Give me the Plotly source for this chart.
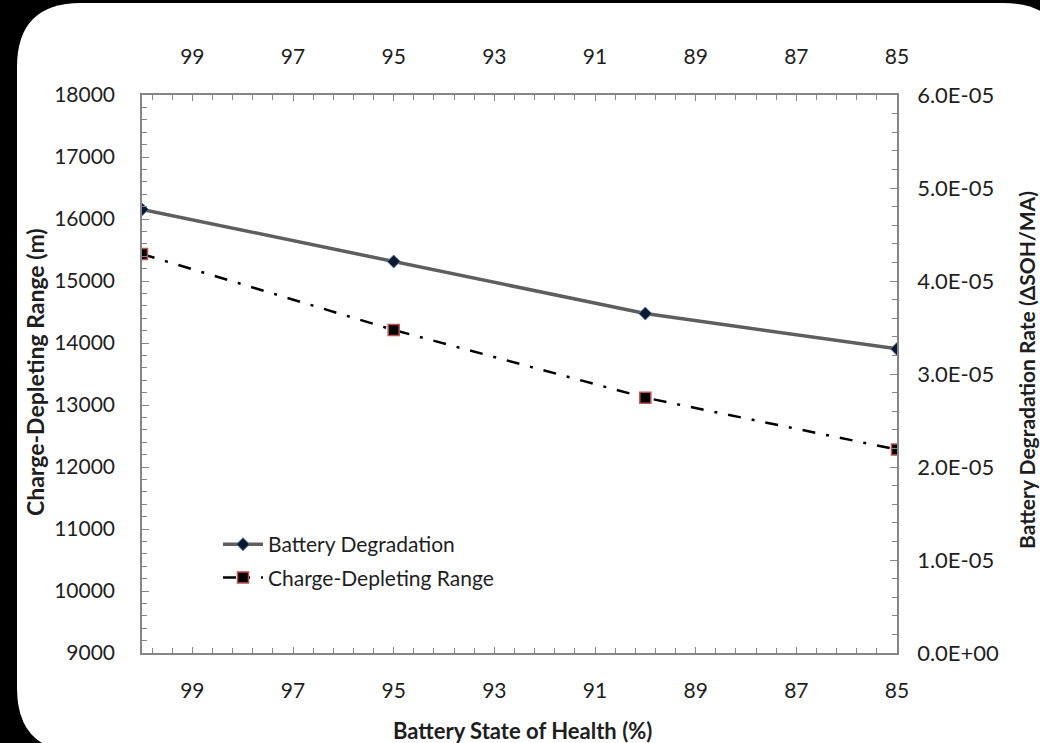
import plotly.graph_objects as go

# ---- data ----
soh = [100, 95, 90, 85]
degradation_rate = [4.77e-05, 4.21e-05, 3.65e-05, 3.27e-05]
cd_range = [15435, 14210, 13118, 12281]

x_ticks = [99, 97, 95, 93, 91, 89, 87, 85]
y_ticks = [9000, 10000, 11000, 12000, 13000, 14000, 15000, 16000, 17000, 18000]
y2_ticks = [0, 1e-05, 2e-05, 3e-05, 4e-05, 5e-05, 6e-05]
y2_labels = ["0.0E+00", "1.0E-05", "2.0E-05", "3.0E-05", "4.0E-05", "5.0E-05", "6.0E-05"]

# ---- layout geometry ----
W, H = 1040, 743
L, R, T, B = 142, 143, 95, 90
PW, PH = W - L - R, H - T - B

def px(x):
    return (x - L) / PW

def py(y):
    return (H - B - y) / PH

FONT = "Lato"
TXT = "#1e1e1e"
AX = "#868686"
TICKSZ = 21

fig = go.Figure()
fig.add_trace(go.Scatter(
    x=soh, y=degradation_rate, name="Battery Degradation",
    xaxis="x2", yaxis="y2", mode="lines+markers",
    line=dict(color="#5e5e5e", width=3.5),
    marker=dict(symbol="diamond", size=10, color="#0b1830",
                line=dict(color="#5b7fb0", width=1)),
    legendgroup="a",
))
fig.add_trace(go.Scatter(
    x=soh, y=cd_range, name="Charge-Depleting Range",
    xaxis="x", yaxis="y", mode="lines+markers",
    line=dict(color="#000000", width=2.5, dash="13px,11px,3px,11px"),
    marker=dict(symbol="square", size=11, color="#000000",
                line=dict(color="#c0504d", width=1.5)),
    legendgroup="b",
))

xcommon = dict(
    range=[100, 85], tickvals=x_ticks, showline=True, linecolor=AX, linewidth=1.5,
    ticks="inside", ticklen=6, tickcolor=AX, tickwidth=1.2, showgrid=False, zeroline=False,
    tickfont=dict(family=FONT, size=TICKSZ, color=TXT),
    minor=dict(ticks="inside", ticklen=5, tickcolor=AX, tickwidth=1.2, dtick=0.4, tick0=99),
)

# rounded white panel path (pixel coords -> paper)
l, t, r, b, rad = 17, 3, 1067, 752, 64
path = (
    f"M {px(l)},{py(t + rad)} "
    f"Q {px(l)},{py(t)} {px(l + rad)},{py(t)} "
    f"L {px(r - rad)},{py(t)} "
    f"Q {px(r)},{py(t)} {px(r)},{py(t + rad)} "
    f"L {px(r)},{py(b - rad)} "
    f"Q {px(r)},{py(b)} {px(r - rad)},{py(b)} "
    f"L {px(l + rad)},{py(b)} "
    f"Q {px(l)},{py(b)} {px(l)},{py(b - rad)} Z"
)

fig.update_layout(
    width=W, height=H,
    margin=dict(l=L, r=R, t=T, b=B),
    paper_bgcolor="#000000", plot_bgcolor="#ffffff",
    font=dict(family=FONT, color=TXT),
    xaxis=dict(**xcommon, side="bottom", anchor="y", ticklabelstandoff=18),
    xaxis2=dict(**xcommon, side="top", overlaying="x", matches="x", anchor="y", ticklabelstandoff=21),
    yaxis=dict(
        range=[9000, 18000], tickvals=y_ticks, tickformat="d", showline=True, linecolor=AX, linewidth=1.5,
        ticks="inside", ticklen=7, tickcolor=AX, tickwidth=1.2, showgrid=False, zeroline=False,
        tickfont=dict(family=FONT, size=TICKSZ, color=TXT), ticklabelstandoff=21,
        minor=dict(ticks="inside", ticklen=5, tickcolor=AX, tickwidth=1.2, dtick=200),
    ),
    yaxis2=dict(
        range=[0, 6e-05], tickvals=y2_ticks, ticktext=y2_labels, overlaying="y", side="right",
        anchor="x2", showline=True, linecolor=AX, linewidth=1.5,
        ticks="inside", ticklen=7, tickcolor=AX, tickwidth=1.2, showgrid=False, zeroline=False,
        tickfont=dict(family=FONT, size=22, color=TXT), ticklabelstandoff=14,
        minor=dict(ticks="inside", ticklen=5, tickcolor=AX, tickwidth=1.2, dtick=2e-06),
    ),
    legend=dict(
        x=px(218), y=py(524), xanchor="left", yanchor="top",
        bgcolor="rgba(0,0,0,0)", font=dict(family=FONT, size=21, color=TXT),
        traceorder="grouped", tracegroupgap=3, itemwidth=40,
    ),
    shapes=[dict(type="path", xref="paper", yref="paper", path=path,
                 fillcolor="#ffffff", line=dict(width=0), layer="below")],
    annotations=[
        dict(text="<b>Charge-Depleting Range (m)</b>", xref="paper", yref="paper",
             x=px(35), y=py(372), textangle=-90, showarrow=False,
             xanchor="center", yanchor="middle",
             font=dict(family=FONT, size=23, color=TXT)),
        dict(text="<b>Battery State of Health (%)</b>", xref="paper", yref="paper",
             x=px(522), y=py(730), showarrow=False,
             xanchor="center", yanchor="middle",
             font=dict(family=FONT, size=22, color=TXT)),
        dict(text="<b>Battery Degradation Rate (ΔSOH/MA)</b>", xref="paper", yref="paper",
             x=px(1026), y=py(370), textangle=-90, showarrow=False,
             xanchor="center", yanchor="middle",
             font=dict(family=FONT, size=21, color=TXT)),
    ],
)

fig.write_html("out.html", config={"displayModeBar": False},
               post_script="document.body.style.margin='0';document.body.style.padding='0';"
                           "document.body.style.background='#000';")
